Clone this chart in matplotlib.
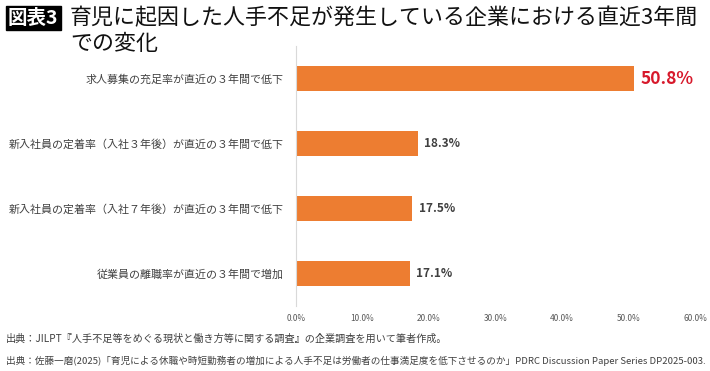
import matplotlib
matplotlib.use("Agg")
import matplotlib.pyplot as plt
from matplotlib.ticker import FuncFormatter

plt.rcParams['font.family'] = ['Noto Sans CJK JP', 'DejaVu Sans']

categories = [
    "求人募集の充足率が直近の３年間で低下",
    "新入社員の定着率（入社３年後）が直近の３年間で低下",
    "新入社員の定着率（入社７年後）が直近の３年間で低下",
    "従業員の離職率が直近の３年間で増加",
]
values = [50.8, 18.3, 17.5, 17.1]
xticks = [0, 10, 20, 30, 40, 50, 60]

bar_color = "#ED7D31"

fig = plt.figure(figsize=(7.1, 3.71), dpi=100)
ax = fig.add_axes([296 / 710, 1 - 306 / 371, 399 / 710, 260 / 371])

ypos = list(range(len(categories)))
ax.barh(ypos, values, height=0.37, color=bar_color)
ax.set_ylim(len(categories) - 0.5, -0.5)
ax.set_xlim(0, 60)
ax.set_xticks(xticks)
ax.xaxis.set_major_formatter(FuncFormatter(lambda v, p: f"{v:.1f}%"))
ax.tick_params(axis="x", length=0, labelsize=6, labelcolor="#595959", pad=6)
ax.set_yticks(ypos)
ax.set_yticklabels(categories, fontsize=7.9, color="#404040")
ax.tick_params(axis="y", length=0, pad=9)

for s in ["top", "right", "bottom"]:
    ax.spines[s].set_visible(False)
ax.spines["left"].set_color("#d9d9d9")
ax.spines["left"].set_linewidth(0.8)

# ラベル
for i, v in enumerate(values):
    if i == 0:
        ax.text(v + 1.0, i, f"{v:.1f}%", va="center", ha="left",
                fontsize=12.5, fontweight="bold", color="#D7192B")
    else:
        ax.text(v + 1.0, i, f"{v:.1f}%", va="center", ha="left",
                fontsize=8.5, fontweight="bold", color="#404040")

# タイトル
fig.text(8 / 710, 1 - 18 / 371, "図表3", fontsize=14, fontweight="bold",
         color="white", va="center", ha="left",
         bbox=dict(boxstyle="square,pad=0.12", facecolor="black", edgecolor="black"))
fig.text(70 / 710, 1 - 18 / 371, "育児に起因した人手不足が発生している企業における直近3年間",
         fontsize=15.8, color="#111111", va="center", ha="left")
fig.text(70 / 710, 1 - 44 / 371, "での変化",
         fontsize=15.8, color="#111111", va="center", ha="left")

# 出典
fig.text(6 / 710, 1 - 339 / 371,
         "出典：JILPT『人手不足等をめぐる現状と働き方等に関する調査』の企業調査を用いて筆者作成。",
         fontsize=7.3, color="#404040", va="center", ha="left")
fig.text(6 / 710, 1 - 361 / 371,
         "出典：佐藤一磨(2025)「育児による休職や時短勤務者の増加による人手不足は労働者の仕事満足度を低下させるのか」PDRC Discussion Paper Series DP2025-003.",
         fontsize=6.9, color="#404040", va="center", ha="left")

fig.savefig("out.png", dpi=100)
